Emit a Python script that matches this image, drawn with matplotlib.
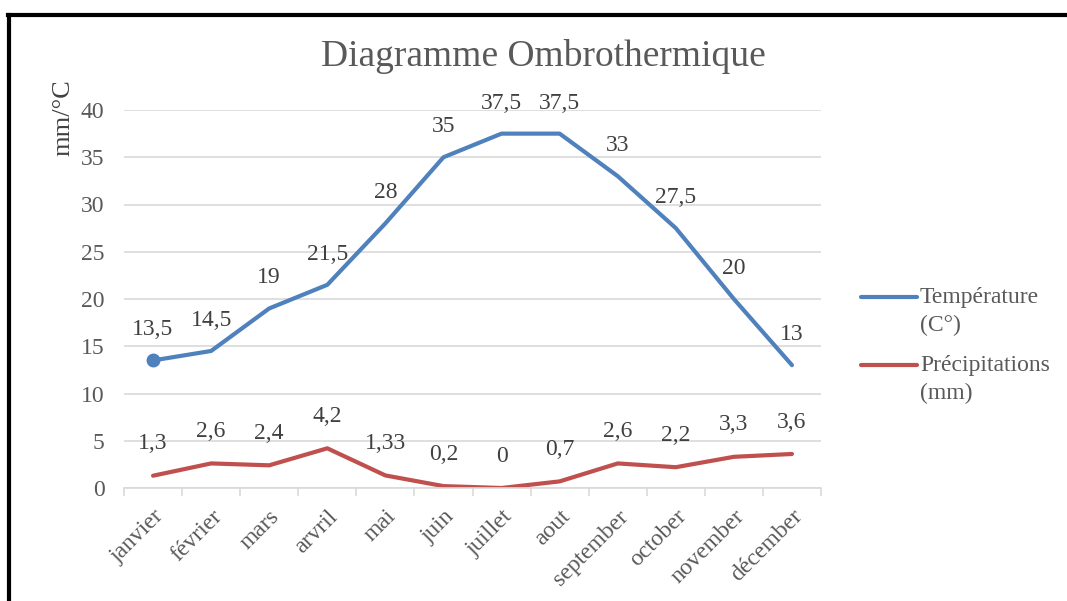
import matplotlib
matplotlib.use("Agg")
import matplotlib.pyplot as plt
from matplotlib.lines import Line2D

# Data
months = ['janvier', 'février', 'mars', 'arvril', 'mai', 'juin', 'juillet',
          'aout', 'september', 'october', 'november', 'décember']
temperature = [13.5, 14.5, 19, 21.5, 28, 35, 37.5, 37.5, 33, 27.5, 20, 13]
precipitations = [1.3, 2.6, 2.4, 4.2, 1.33, 0.2, 0, 0.7, 2.6, 2.2, 3.3, 3.6]
yticks = [0, 5, 10, 15, 20, 25, 30, 35, 40]
series_names = [('Température', '(C°)'), ('Précipitations', '(mm)')]

blue = '#4F81BD'
red = '#C0504D'
grey_txt = '#595959'
fs = 17

plt.rcParams['font.family'] = ['Liberation Serif', 'DejaVu Serif']

fig = plt.figure(figsize=(10.67, 6.01), dpi=100)
ax = fig.add_axes([124/1067, 113/601, 697/1067, 378/601])

x = list(range(len(months)))
ax.plot(x, temperature, color=blue, lw=3, solid_joinstyle='round',
        solid_capstyle='round', marker='o', markevery=[0], markersize=9)
ax.plot(x, precipitations, color=red, lw=3, solid_joinstyle='round',
        solid_capstyle='round')

def lab(v):
    return '{:g}'.format(v).replace('.', ',')

for xi, v in zip(x, temperature):
    ax.annotate(lab(v), (xi, v), xytext=(0, 22), textcoords='offset points',
                ha='center', va='center', fontsize=fs, color='#404040')
for xi, v in zip(x, precipitations):
    ax.annotate(lab(v), (xi, v), xytext=(0, 23), textcoords='offset points',
                ha='center', va='center', fontsize=fs, color='#404040')

ax.set_xlim(-0.5, len(months) - 0.5)
ax.set_ylim(0, 40)
ax.set_yticks(yticks)
ax.set_yticklabels([str(t) for t in yticks], fontsize=fs, color=grey_txt)
ax.tick_params(axis='y', length=0, pad=14)
ax.grid(axis='y', color='#D9D9D9', lw=1.2)
ax.set_axisbelow(True)

ax.set_xticks(x)
ax.set_xticklabels(months, rotation=45, ha='right', va='top',
                   rotation_mode='anchor', fontsize=fs, color=grey_txt)
ax.set_xticks([i - 0.5 for i in range(len(months) + 1)], minor=True)
ax.tick_params(axis='x', which='major', length=0, pad=13)
ax.tick_params(axis='x', which='minor', length=6, color='#D9D9D9', width=1.2)

for s in ['top', 'right', 'left']:
    ax.spines[s].set_visible(False)
ax.spines['bottom'].set_color('#D9D9D9')
ax.spines['bottom'].set_linewidth(1.2)

ax.set_ylabel('mm/°C', fontsize=19, color='#404040')
ax.yaxis.set_label_coords(-0.071, 0.98)
ax.yaxis.label.set_va('bottom')

fig.text(543/1067, 1 - 57/601, 'Diagramme Ombrothermique', ha='center',
         va='center', fontsize=27, color=grey_txt)

# legend: handle aligned with the first line of each two-line label
leg_y = [297, 365]
for (name, unit), col, yy in zip(series_names, [blue, red], leg_y):
    fy = 1 - yy/601
    fig.add_artist(Line2D([861/1067, 917/1067], [fy, fy], color=col, lw=3,
                          solid_capstyle='round', transform=fig.transFigure))
    fig.text(920/1067, fy, name, ha='left', va='center', fontsize=fs,
             color=grey_txt)
    fig.text(920/1067, 1 - (yy + 28)/601, unit, ha='left', va='center',
             fontsize=fs, color=grey_txt)

# black frame around the chart (top and left edges)
fig.add_artist(Line2D([9/1067, 9/1067], [0, 1 - 15/601], color='black',
                      lw=3, transform=fig.transFigure))
fig.add_artist(Line2D([8/1067, 1], [1 - 15/601, 1 - 15/601], color='black',
                      lw=3, transform=fig.transFigure))

fig.savefig('out.png', dpi=100)
